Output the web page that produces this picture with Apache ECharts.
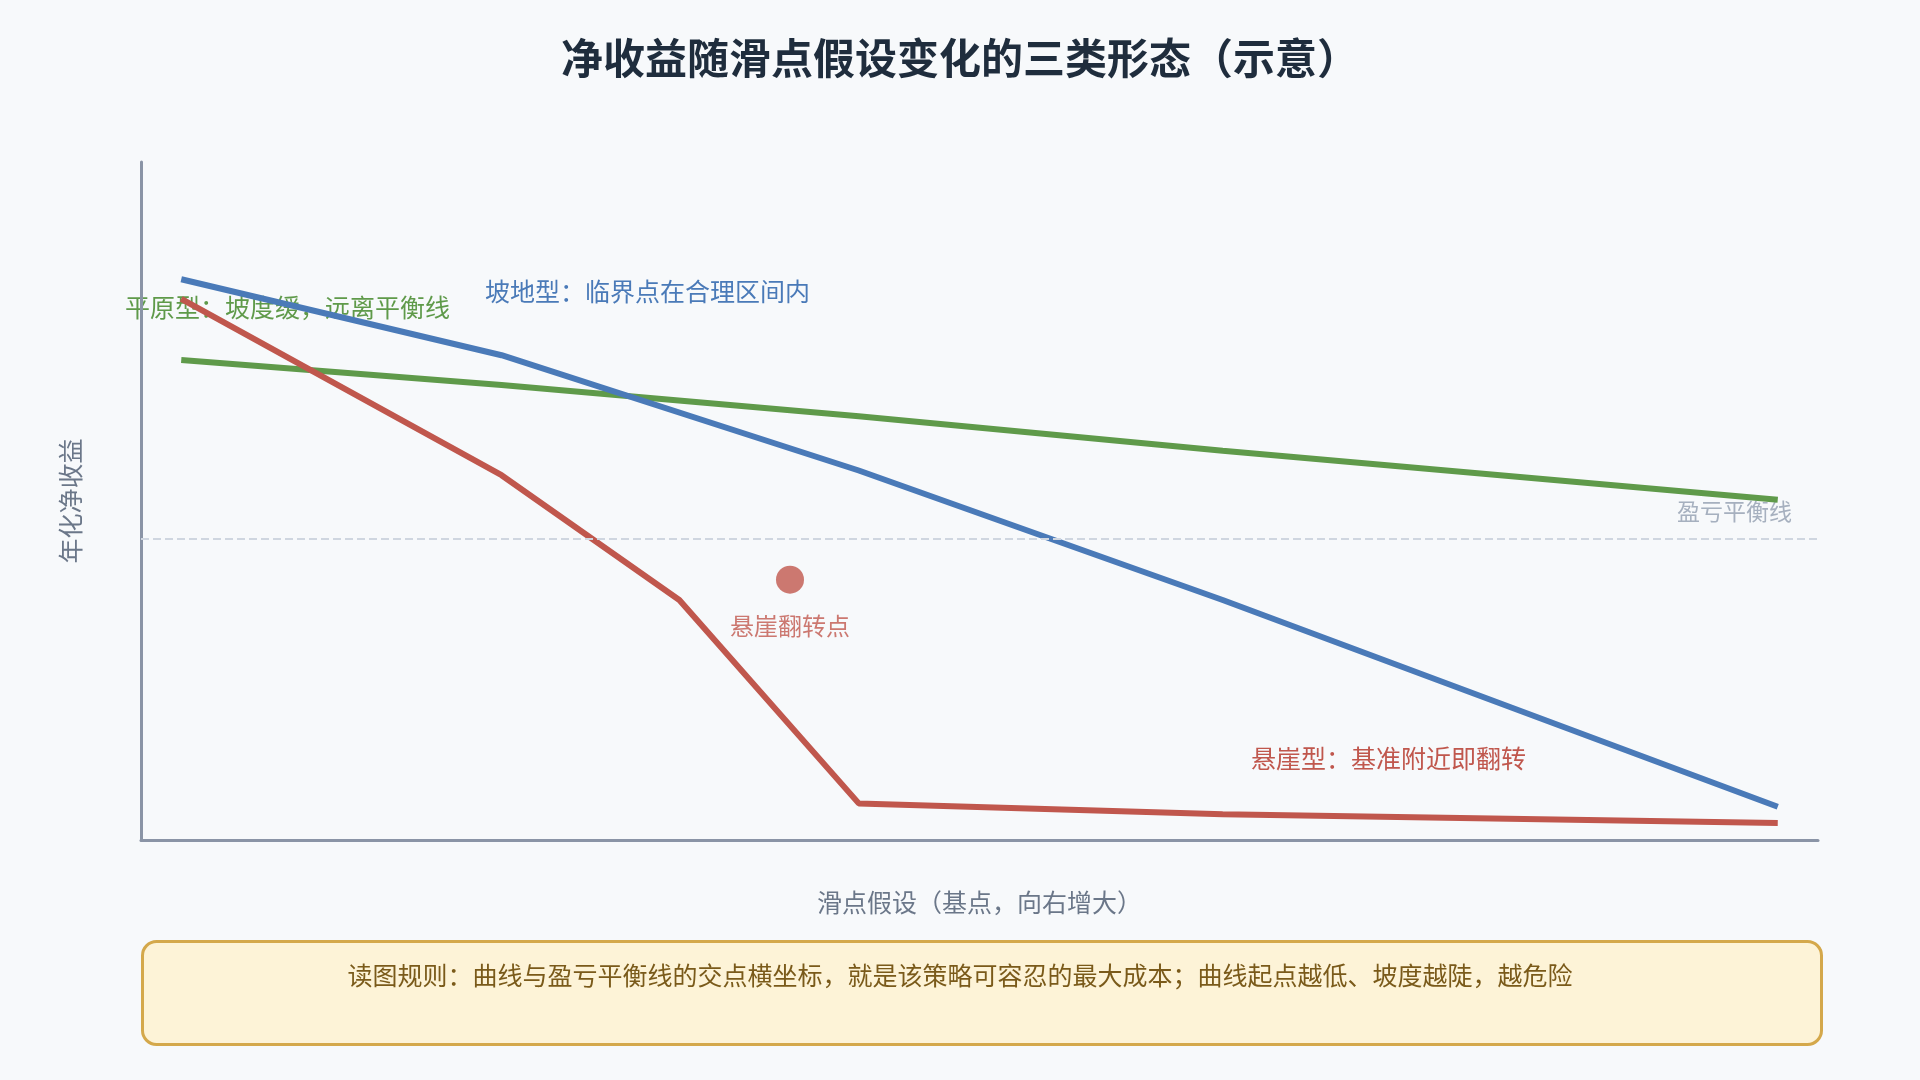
<!DOCTYPE html><html><head><meta charset="utf-8"><script src="https://cdn.jsdelivr.net/npm/echarts@6/dist/echarts.min.js"></script>
<style>html,body{margin:0;background:#f7f9fb}#c{width:1920px;height:1080px}</style></head><body><div id="c"></div><script>
const xs=[2.4,21.5,32.1,42.8,64.5,97.6];
const plain=[[2.4,70.8],[21.5,67.1],[42.8,62.5],[64.5,57.4],[97.6,50.2]];
const slope=[[2.4,82.7],[21.5,71.5],[42.8,54.5],[64.5,35.4],[97.6,4.9]];
const cliff=[[2.4,79.8],[21.5,53.8],[32.1,35.4],[42.8,5.4],[64.5,3.8],[97.6,2.5]];
const flip=[[38.7,38.4]];
const breakEven=44.4;
const F='"Noto Sans CJK SC","Noto Sans",sans-serif';
const c=echarts.init(document.getElementById('c'));
c.setOption({backgroundColor:'#f7f9fb',animation:false,
title:{text:'净收益随滑点假设变化的三类形态（示意）',left:'center',top:32,textStyle:{fontFamily:F,fontSize:42,fontWeight:'bold',color:'#1f2d3d'}},
grid:{left:141,right:102,top:162,bottom:240},
xAxis:{type:'value',min:0,max:100,name:'滑点假设（基点，向右增大）',nameLocation:'middle',nameGap:50,nameTextStyle:{fontFamily:F,fontSize:25,color:'#6b7789'},axisLine:{lineStyle:{color:'#8a94a6',width:3}},axisTick:{show:false},axisLabel:{show:false},splitLine:{show:false}},
yAxis:{type:'value',min:0,max:100,name:'年化净收益',nameLocation:'middle',nameGap:58,nameTextStyle:{fontFamily:F,fontSize:25,color:'#6b7789'},axisLine:{show:true,lineStyle:{color:'#8a94a6',width:3}},axisTick:{show:false},axisLabel:{show:false},splitLine:{show:false}},
series:[
{type:'line',data:plain,symbol:'none',lineStyle:{color:'#5f9a4a',width:6},
 markLine:{silent:true,symbol:'none',lineStyle:{type:'dashed',color:'#cfd6e0',width:2},label:{show:false},data:[{yAxis:breakEven}]}},
{type:'line',data:slope,symbol:'none',lineStyle:{color:'#4a7ab8',width:6}},
{type:'line',data:cliff,symbol:'none',lineStyle:{color:'#c0574d',width:6}},
{type:'scatter',data:flip,symbolSize:28,itemStyle:{color:'#c0574d'},label:{show:true,position:'bottom',distance:20,formatter:'悬崖翻转点',fontFamily:F,fontSize:24,color:'#c0574d'}}
],
graphic:[
{type:'text',left:125,top:295,style:{text:'平原型：坡度缓，远离平衡线',font:'25px '+F,fill:'#5f9a4a'}},
{type:'text',left:485,top:279,style:{text:'坡地型：临界点在合理区间内',font:'25px '+F,fill:'#4a7ab8'}},
{type:'text',left:1251,top:746,style:{text:'悬崖型：基准附近即翻转',font:'25px '+F,fill:'#c0574d'}},
{type:'text',right:128,top:500,style:{text:'盈亏平衡线',font:'23px '+F,fill:'#a6b0bf'}},
{type:'rect',left:141,top:940,shape:{width:1679,height:103,r:14},style:{fill:'#fdf3d7',stroke:'#d4a84b',lineWidth:3}},
{type:'text',left:'center',top:963,style:{text:'读图规则：曲线与盈亏平衡线的交点横坐标，就是该策略可容忍的最大成本；曲线起点越低、坡度越陡，越危险',font:'25px '+F,fill:'#7a5a1a'}}
]});
</script></body></html>
